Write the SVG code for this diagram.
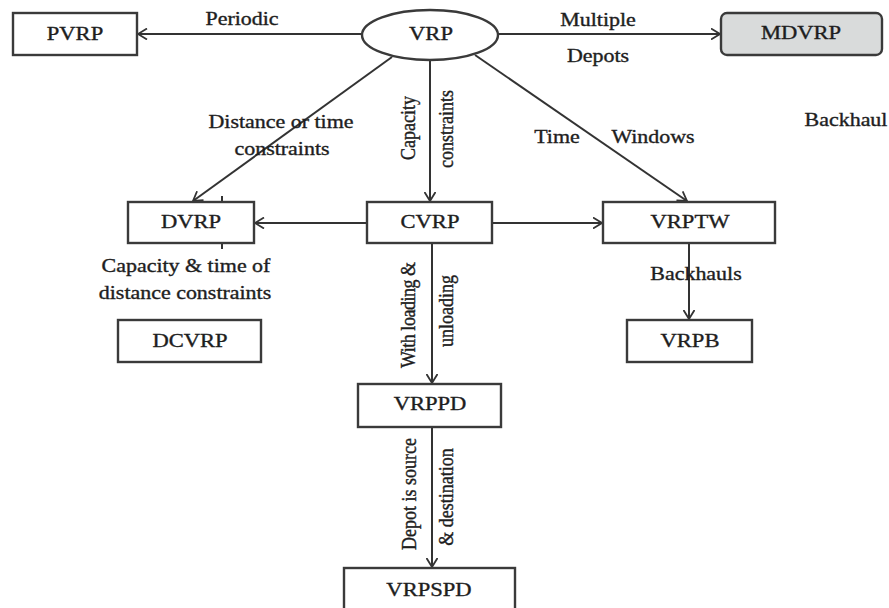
<svg xmlns="http://www.w3.org/2000/svg" width="889" height="608" viewBox="0 0 889 608">
  <defs>
    <marker id="arrow" viewBox="0 0 10 12" markerWidth="10" markerHeight="12" refX="9.5" refY="6" orient="auto" markerUnits="userSpaceOnUse">
      <path d="M0.5,0.5 L9.5,6 L0.5,11.5" fill="none" stroke="#333" stroke-width="1.8"/>
    </marker>
    <style>
      .box { fill: #ffffff; stroke: #3a3a3a; stroke-width: 2.4; }
      .grey { fill: #d9dbdb; }
      .edge { fill: none; stroke: #333333; stroke-width: 2; marker-end: url(#arrow); }
      .tick { stroke: #333333; stroke-width: 2; }
      .t { font-family: "Liberation Serif", "Times New Roman", serif; font-size: 18px; fill: #1e1e1e; stroke: #1e1e1e; stroke-width: 0.35; text-anchor: middle; }
      .n { font-size: 18.5px; }
    </style>
  </defs>
  <rect width="889" height="608" fill="#ffffff"/>

  <!-- connectors -->
  <g id="connectors">
    <line class="edge" x1="362" y1="34" x2="138" y2="34"/>
    <line class="edge" x1="498" y1="34" x2="720" y2="34"/>
    <line class="edge" x1="392" y1="57" x2="193" y2="201"/>
    <line class="edge" x1="430" y1="60" x2="430" y2="201"/>
    <line class="edge" x1="475" y1="55" x2="687" y2="201"/>
    <line class="edge" x1="367" y1="223" x2="255" y2="223"/>
    <line class="edge" x1="492" y1="223" x2="602" y2="223"/>
    <line class="edge" x1="689" y1="243" x2="689" y2="319"/>
    <line class="edge" x1="432" y1="243" x2="432" y2="383"/>
    <line class="edge" x1="432" y1="427" x2="432" y2="567"/>
    <line class="tick" x1="222" y1="196" x2="222" y2="201"/>
    <line class="tick" x1="222" y1="244" x2="222" y2="249"/>
  </g>

  <!-- edge labels -->
  <g id="labels">
    <text class="t" transform="translate(242,25) scale(1.22,1)">Periodic</text>
    <text class="t" transform="translate(598,26) scale(1.22,1)">Multiple</text>
    <text class="t" transform="translate(598,62) scale(1.22,1)">Depots</text>
    <text class="t" transform="translate(846,126) scale(1.22,1)">Backhaul</text>
    <text class="t" transform="translate(281,128) scale(1.22,1)">Distance or time</text>
    <text class="t" transform="translate(282,155) scale(1.22,1)">constraints</text>
    <text class="t" transform="translate(557,143) scale(1.22,1)">Time</text>
    <text class="t" transform="translate(653,143) scale(1.22,1)">Windows</text>
    <text class="t" transform="translate(186,272) scale(1.22,1)">Capacity &amp; time of</text>
    <text class="t" transform="translate(185,299) scale(1.22,1)">distance constraints</text>
    <text class="t" transform="translate(696,280) scale(1.22,1)">Backhauls</text>
    <text class="t" transform="translate(415,128) rotate(-90) scale(1,1.12)">Capacity</text>
    <text class="t" transform="translate(453,129) rotate(-90) scale(1,1.12)">constraints</text>
    <text class="t" transform="translate(415,315) rotate(-90) scale(1,1.12)" textLength="106">With loading &amp;</text>
    <text class="t" transform="translate(453,311) rotate(-90) scale(1,1.12)">unloading</text>
    <text class="t" transform="translate(416,494) rotate(-90) scale(1,1.12)">Depot is source</text>
    <text class="t" transform="translate(453,497) rotate(-90) scale(1,1.12)">&amp; destination</text>
  </g>

  <!-- nodes -->
  <g id="VRP">
    <ellipse cx="430" cy="35" rx="68" ry="25" class="box"/>
    <text class="t n" transform="translate(431,40) scale(1.22,1)">VRP</text>
  </g>
  <g id="PVRP">
    <rect x="13" y="13" width="124" height="42" class="box"/>
    <text class="t n" transform="translate(75,40) scale(1.22,1)">PVRP</text>
  </g>
  <g id="MDVRP">
    <rect x="721" y="13" width="161" height="42" rx="6" class="box grey"/>
    <text class="t n" transform="translate(801,39) scale(1.22,1)">MDVRP</text>
  </g>
  <g id="DVRP">
    <rect x="128" y="202" width="126" height="41" class="box"/>
    <text class="t n" transform="translate(191,228) scale(1.22,1)">DVRP</text>
  </g>
  <g id="CVRP">
    <rect x="367" y="202" width="125" height="41" class="box"/>
    <text class="t n" transform="translate(430,228) scale(1.22,1)">CVRP</text>
  </g>
  <g id="VRPTW">
    <rect x="603" y="202" width="172" height="41" class="box"/>
    <text class="t n" transform="translate(690,228) scale(1.22,1)">VRPTW</text>
  </g>
  <g id="DCVRP">
    <rect x="118" y="320" width="143" height="42" class="box"/>
    <text class="t n" transform="translate(190,347) scale(1.22,1)">DCVRP</text>
  </g>
  <g id="VRPB">
    <rect x="627" y="320" width="125" height="42" class="box"/>
    <text class="t n" transform="translate(690,347) scale(1.22,1)">VRPB</text>
  </g>
  <g id="VRPPD">
    <rect x="358" y="384" width="143" height="43" class="box"/>
    <text class="t n" transform="translate(430,410) scale(1.22,1)">VRPPD</text>
  </g>
  <g id="VRPSPD">
    <rect x="344" y="568" width="171" height="46" class="box"/>
    <text class="t n" transform="translate(429,596) scale(1.22,1)">VRPSPD</text>
  </g>
</svg>
